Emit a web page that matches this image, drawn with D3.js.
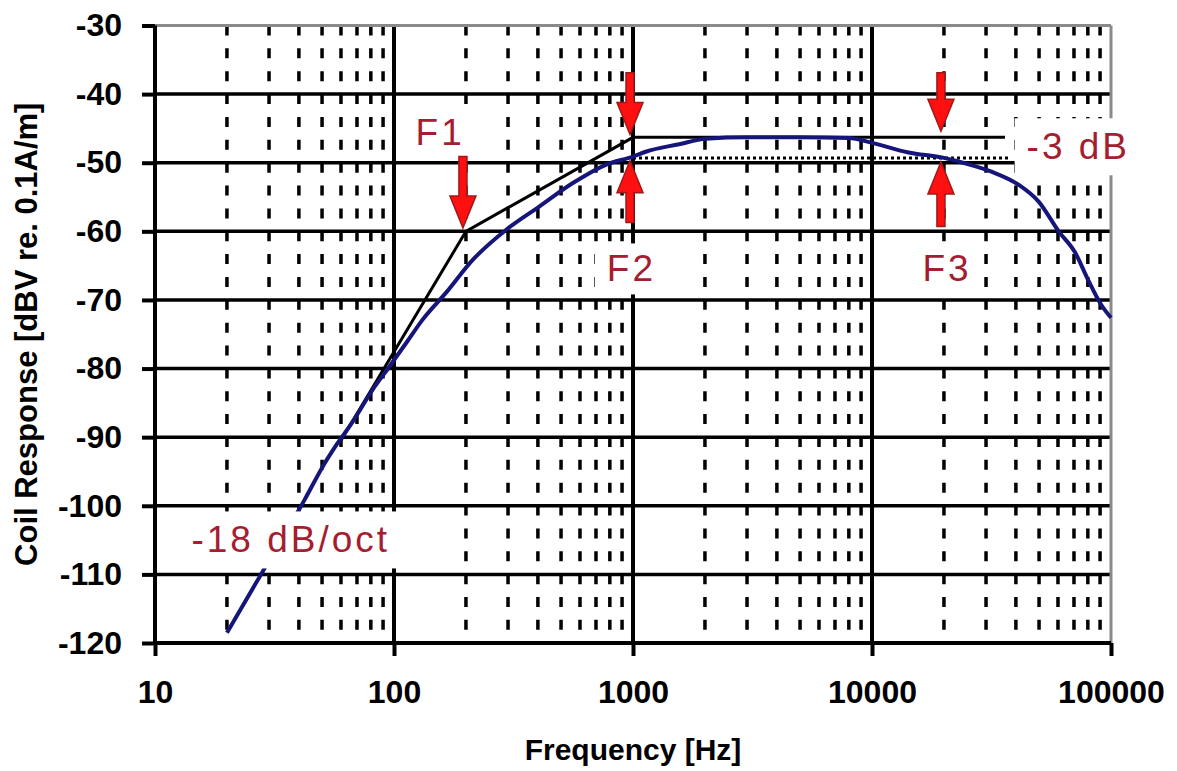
<!DOCTYPE html>
<html>
<head>
<meta charset="utf-8">
<script src="https://cdn.jsdelivr.net/npm/d3@7"></script>
<style>
body { margin: 0; background: #fff; }
text { font-family: "Liberation Sans", Arial, sans-serif; }
</style>
</head>
<body>
<div id="chart"></div>
<script>
var respFreq = [20, 28.2, 42.3, 50.3, 57.5, 67, 81.3, 95.7, 112.8, 131.5, 165.5, 213, 294, 405, 558, 769,
                1000, 1130, 1560, 2018, 3000, 5000, 8000, 10000, 14200, 20000, 24000, 31600, 41000,
                49900, 60400, 70800, 80000, 91000, 100000];
var respDb = [-118.5, -109.6, -99.1, -94.3, -91.1, -87.8, -83.1, -79.7, -76.2, -72.9, -68.9, -64.2, -59.8, -56.4, -53.0, -50.3,
              -49.1, -48.4, -47.3, -46.5, -46.3, -46.3, -46.4, -47.1, -48.5, -49.3, -50.0, -51.3, -53.2,
              -55.7, -60.0, -63.1, -67.0, -70.7, -72.6];

// asymptotes and the -3 dB reference
var asymFreq = [60, 200, 1000, 36000];
var asymDb = [-90.5, -60, -46.3, -46.3];
var halfFreq = [1000, 38000];
var halfDb = [-49.3, -49.3];

var yTicks = [-30, -40, -50, -60, -70, -80, -90, -100, -110, -120];
var xTicks = [10, 100, 1000, 10000, 100000];

// red arrows: frequency, tail level, tip level
var arrowFreq = [200, 1000, 1000, 20000, 20000];
var arrowTail = [-49.1, -36.9, -58.7, -36.9, -59.3];
var arrowTip = [-59.5, -45.9, -49.7, -45.4, -49.9];

var labelText = ["F1", "F2", "F3", "-3 dB", "-18 dB/oct"];
var labelFreq = [156, 985, 20600, 73000, 37];
var labelDb = [-47.35, -67.3, -67.3, -49.5, -106.8];

var width = 1177, height = 771;
var margin = {top: 25.5, right: 66, bottom: 128, left: 155};

var svg = d3.select('#chart')
    .append('svg')
    .attr('width', width)
    .attr('height', height)
    .style('background', '#fff');

var x = d3.scaleLog()
    .domain([10, 100000])
    .range([margin.left, width - margin.right]);
var y = d3.scaleLinear()
    .domain([-120, -30])
    .range([height - margin.bottom, margin.top]);

var x0 = x.range()[0], x1 = x.range()[1];
var y0 = y.range()[0], y1 = y.range()[1];

// minor vertical grid (dashed)
var minor = [];
xTicks.slice(0, -1).forEach(function(d) {
    for (var m = 2; m < 10; m++) minor.push(d * m);
});

var grid = svg.append('g');
grid.selectAll('.minor')
    .data(minor)
    .enter().append('line')
    .attr('x1', function(d) { return x(d); })
    .attr('x2', function(d) { return x(d); })
    .attr('y1', y1)
    .attr('y2', y0)
    .style('stroke', '#000')
    .style('stroke-width', 3.5)
    .style('stroke-dasharray', '10,12.86');

grid.selectAll('.hgrid')
    .data(yTicks.slice(1, -1))
    .enter().append('line')
    .attr('x1', x0).attr('x2', x1)
    .attr('y1', function(d) { return y(d); })
    .attr('y2', function(d) { return y(d); })
    .style('stroke', '#000')
    .style('stroke-width', 3.5);

grid.selectAll('.vgrid')
    .data(xTicks.slice(1, -1))
    .enter().append('line')
    .attr('x1', function(d) { return x(d); })
    .attr('x2', function(d) { return x(d); })
    .attr('y1', y1).attr('y2', y0)
    .style('stroke', '#000')
    .style('stroke-width', 4);

// frame: grey top and right, black axes
svg.append('line').attr('x1', x0).attr('x2', x1).attr('y1', y1).attr('y2', y1)
    .style('stroke', '#8a8a8a').style('stroke-width', 3);
svg.append('line').attr('x1', x1).attr('x2', x1).attr('y1', y1).attr('y2', y0)
    .style('stroke', '#8a8a8a').style('stroke-width', 3);

var yAxis = svg.append('g')
    .attr('transform', 'translate(' + x0 + ',0)')
    .call(d3.axisLeft(y).tickValues(yTicks).tickSize(13).tickPadding(20)
        .tickFormat(function(d) { return String(d); }));
var xAxis = svg.append('g')
    .attr('transform', 'translate(0,' + y0 + ')')
    .call(d3.axisBottom(x).tickValues(xTicks).tickSize(13).tickPadding(24)
        .tickFormat(function(d) { return String(d); }));

[yAxis, xAxis].forEach(function(a) {
    a.select('.domain').style('stroke', '#000').style('stroke-width', 4);
    a.selectAll('.tick line').style('stroke', '#000').style('stroke-width', 4);
    a.selectAll('.tick text')
        .style('font-family', '"Liberation Sans", Arial, sans-serif')
        .style('font-size', '32px')
        .style('font-weight', 'bold')
        .style('fill', '#000');
});
yAxis.select('.domain').attr('d', 'M0,' + y1 + 'V' + y0);
xAxis.select('.domain').attr('d', 'M' + x0 + ',0H' + x1);

// curves
var line = d3.line()
    .x(function(d) { return x(d[0]); })
    .y(function(d) { return y(d[1]); });

svg.append('path')
    .datum(asymFreq.map(function(f, i) { return [f, asymDb[i]]; }))
    .attr('d', line)
    .style('fill', 'none')
    .style('stroke', '#000')
    .style('stroke-width', 3);

svg.append('path')
    .datum(halfFreq.map(function(f, i) { return [f, halfDb[i]]; }))
    .attr('d', line)
    .style('fill', 'none')
    .style('stroke', '#000')
    .style('stroke-width', 3)
    .style('stroke-dasharray', '3,3');

svg.append('path')
    .datum(respFreq.map(function(f, i) { return [f, respDb[i]]; }))
    .attr('d', line.curve(d3.curveMonotoneX))
    .style('fill', 'none')
    .style('stroke', '#15157a')
    .style('stroke-width', 4);

// labels with white boxes behind
var labels = svg.append('g');
labelText.forEach(function(t, i) {
    var g = labels.append('g');
    var box = g.append('rect').style('fill', '#fff');
    var txt = g.append('text')
        .attr('x', x(labelFreq[i]))
        .attr('y', y(labelDb[i]))
        .attr('text-anchor', 'middle')
        .style('font-size', '37px')
        .style('letter-spacing', '3px')
        .style('fill', '#a51d30')
        .text(t);
    var b = txt.node().getBBox();
    var px = i === 4 ? 22 : 12, py = i < 3 ? 5 : 8;
    box.attr('x', b.x - px).attr('y', b.y - py)
        .attr('width', b.width + 2 * px).attr('height', b.height + 2 * py);
});

// arrows
var headLen = 32, headW = 13, shaft = 4;
svg.selectAll('.arrow')
    .data(arrowFreq.map(function(f, i) { return [f, arrowTail[i], arrowTip[i]]; }))
    .enter().append('path')
    .attr('d', function(d) {
        var ax = x(d[0]) - 3, ty = y(d[1]), py = y(d[2]);
        var s = py > ty ? 1 : -1;
        var hy = py - s * headLen;
        return 'M' + (ax - shaft) + ',' + ty +
            'L' + (ax + shaft) + ',' + ty +
            'L' + (ax + shaft) + ',' + hy +
            'L' + (ax + headW) + ',' + hy +
            'L' + ax + ',' + py +
            'L' + (ax - headW) + ',' + hy +
            'L' + (ax - shaft) + ',' + hy + 'Z';
    })
    .style('fill', '#ff1010')
    .style('stroke', '#a01818')
    .style('stroke-width', 1.5);

// axis titles
svg.append('text')
    .attr('x', (x0 + x1) / 2)
    .attr('y', 760)
    .attr('text-anchor', 'middle')
    .style('font-size', '30px')
    .style('font-weight', 'bold')
    .text('Frequency [Hz]');

svg.append('text')
    .attr('transform', 'translate(26,' + ((y0 + y1) / 2) + ') rotate(-90)')
    .attr('text-anchor', 'middle')
    .attr('dy', '0.35em')
    .style('font-size', '31px')
    .style('font-weight', 'bold')
    .text('Coil Response [dBV re. 0.1A/m]');
</script>
</body>
</html>
